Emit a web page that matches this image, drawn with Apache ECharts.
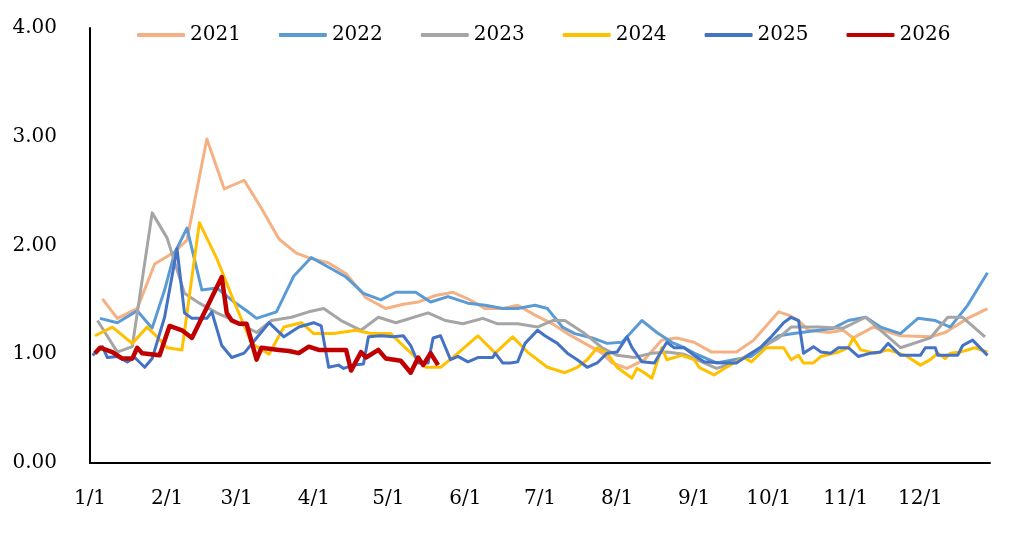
<!DOCTYPE html>
<html>
<head>
<meta charset="utf-8">
<script src="https://cdn.jsdelivr.net/npm/echarts@6/dist/echarts.min.js"></script>
<style>
html,body{margin:0;padding:0;background:#fff;}
#chart{width:1026px;height:547px;}
</style>
</head>
<body>
<div id="chart"></div>
<script>
// x = day of year (0 = Jan 1)
const monthStarts = [0,31,59,90,120,151,181,212,243,273,304,334];
const monthLabels = ['1/1','2/1','3/1','4/1','5/1','6/1','7/1','8/1','9/1','10/1','11/1','12/1'];
const seriesNames = ['2021','2022','2023','2024','2025','2026'];

const s2021 = [[5,1.51],[11,1.33],[19,1.42],[26,1.83],[34,1.94],[39,2.05],[47,2.98],[54,2.52],[62,2.60],[69,2.34],[76,2.06],[83,1.93],[89,1.88],[96,1.84],[103,1.74],[111,1.52],[119,1.42],[126,1.46],[132,1.48],[139,1.54],[146,1.57],[152,1.51],[159,1.42],[166,1.42],[172,1.45],[179,1.36],[186,1.28],[192,1.19],[199,1.10],[206,1.01],[210,0.92],[216,0.87],[223,0.95],[230,1.13],[236,1.15],[243,1.11],[250,1.02],[260,1.02],[267,1.13],[277,1.39],[281,1.36],[285,1.31],[289,1.22],[297,1.20],[303,1.22],[307,1.15],[315,1.25],[326,1.17],[338,1.16],[344,1.20],[353,1.33],[361,1.42]];

const s2022 = [[4,1.33],[11,1.29],[19,1.40],[25,1.24],[30,1.59],[34,1.93],[39,2.16],[45,1.59],[51,1.61],[58,1.48],[63,1.40],[67,1.33],[75,1.39],[82,1.72],[89,1.89],[96,1.80],[103,1.71],[110,1.56],[117,1.50],[123,1.57],[131,1.57],[137,1.48],[144,1.53],[152,1.47],[159,1.45],[166,1.42],[172,1.42],[179,1.45],[184,1.42],[190,1.25],[195,1.19],[202,1.15],[208,1.10],[214,1.11],[222,1.31],[228,1.20],[234,1.11],[239,1.06],[243,1.01],[252,0.92],[259,0.95],[266,0.98],[277,1.17],[283,1.19],[293,1.22],[299,1.24],[305,1.31],[312,1.34],[318,1.25],[326,1.19],[333,1.33],[340,1.31],[346,1.25],[353,1.45],[361,1.75]];

const s2023 = [[3,1.31],[11,1.02],[17,1.07],[25,2.30],[31,2.07],[38,1.56],[44,1.47],[51,1.38],[58,1.31],[67,1.20],[73,1.31],[81,1.34],[88,1.39],[94,1.42],[101,1.31],[109,1.22],[116,1.34],[123,1.29],[136,1.38],[143,1.31],[150,1.28],[158,1.33],[164,1.28],[172,1.28],[180,1.25],[186,1.31],[191,1.31],[199,1.19],[206,1.06],[212,0.99],[219,0.97],[226,1.01],[232,1.02],[239,1.00],[252,0.87],[259,0.92],[266,1.01],[277,1.15],[282,1.25],[293,1.25],[303,1.24],[312,1.34],[326,1.06],[338,1.15],[345,1.34],[351,1.34],[360,1.16]];

const s2024 = [[2,1.17],[9,1.25],[17,1.10],[23,1.25],[27,1.16],[31,1.06],[37,1.04],[44,2.21],[51,1.88],[58,1.48],[65,1.10],[72,1.00],[78,1.25],[85,1.29],[90,1.19],[98,1.19],[107,1.22],[113,1.19],[121,1.19],[125,1.10],[131,0.97],[135,0.88],[141,0.88],[148,1.01],[156,1.17],[163,1.01],[170,1.16],[176,1.02],[184,0.88],[191,0.83],[196,0.88],[200,0.95],[204,1.06],[208,1.01],[212,0.88],[218,0.78],[220,0.87],[223,0.83],[226,0.78],[230,1.06],[232,0.95],[238,0.99],[243,0.95],[245,0.88],[251,0.81],[256,0.88],[263,0.97],[266,0.93],[272,1.06],[279,1.06],[282,0.95],[285,0.99],[287,0.92],[291,0.92],[294,0.98],[301,1.02],[305,1.06],[307,1.15],[310,1.04],[316,1.01],[321,1.04],[328,0.99],[334,0.90],[338,0.95],[341,1.01],[344,0.96],[346,1.01],[350,1.02],[356,1.06],[361,1.02]];

const s2025 = [[1,0.99],[5,1.07],[7,0.97],[11,0.98],[15,0.93],[18,0.97],[22,0.88],[25,0.96],[30,1.34],[35,1.97],[38,1.38],[41,1.33],[47,1.33],[49,1.39],[53,1.08],[57,0.97],[62,1.01],[67,1.15],[72,1.29],[78,1.16],[84,1.25],[90,1.29],[93,1.26],[96,0.88],[100,0.90],[102,0.87],[106,0.90],[110,0.91],[112,1.16],[117,1.17],[122,1.16],[126,1.17],[129,1.08],[132,0.92],[136,0.92],[138,1.15],[141,1.17],[145,0.95],[148,0.98],[152,0.93],[156,0.97],[162,0.97],[163,1.01],[166,0.92],[169,0.92],[172,0.93],[175,1.10],[180,1.22],[183,1.17],[188,1.10],[192,1.01],[196,0.95],[200,0.88],[204,0.92],[208,1.01],[212,1.02],[216,1.16],[218,1.06],[222,0.93],[227,0.92],[232,1.11],[235,1.06],[239,1.06],[243,0.99],[247,0.93],[254,0.92],[260,0.92],[266,1.01],[270,1.07],[274,1.16],[279,1.29],[282,1.34],[285,1.31],[287,1.01],[291,1.07],[294,1.02],[298,1.01],[301,1.06],[305,1.06],[309,0.98],[314,1.01],[318,1.02],[321,1.10],[326,0.99],[334,0.99],[336,1.06],[340,1.06],[341,0.99],[349,0.99],[351,1.08],[355,1.13],[361,0.99]];

const s2026 = [[2,1.01],[4,1.06],[9,1.02],[13,0.96],[17,0.96],[19,1.06],[21,1.01],[28,0.99],[32,1.26],[37,1.22],[41,1.15],[47,1.43],[53,1.71],[55,1.38],[57,1.31],[60,1.28],[63,1.28],[67,0.95],[69,1.06],[76,1.04],[80,1.03],[84,1.01],[88,1.07],[92,1.04],[103,1.04],[105,0.85],[109,1.02],[111,0.97],[116,1.04],[119,0.96],[125,0.94],[129,0.83],[132,0.97],[134,0.90],[137,1.01],[140,0.90]];

const seriesData = [s2021,s2022,s2023,s2024,s2025,s2026];
const colors = ['#F4B183','#5B9BD5','#A5A5A5','#FFC000','#4472C4','#C00000'];
const widths = [3,3,3,3,3,4.5];

const font = 'DejaVu Serif';
const chart = echarts.init(document.getElementById('chart'), null, {renderer:'canvas'});
chart.setOption({
  animation:false,
  backgroundColor:'#fff',
  color: colors,
  legend:{
    top:20, left:132,
    itemWidth:48, itemHeight:4, itemGap:38,
    icon:'roundRect',
    data: seriesNames.map((n,i)=>({name:n, itemStyle:{color:colors[i]}})),
    textStyle:{fontFamily:font, fontSize:20, color:'#000'}
  },
  grid:{left:90, right:36, top:28, bottom:84, containLabel:false},
  xAxis:{
    type:'value', min:0, max:362,
    axisLine:{show:true, lineStyle:{color:'#000', width:2}},
    axisTick:{show:false},
    splitLine:{show:false},
    axisLabel:{
      customValues: monthStarts,
      margin:26,
      fontFamily:font, fontSize:20, color:'#000',
      formatter: v => { const i = monthStarts.indexOf(Math.round(v)); return i>=0 ? monthLabels[i] : ''; }
    }
  },
  yAxis:{
    type:'value', min:0, max:4, interval:1,
    axisLine:{show:true, lineStyle:{color:'#000', width:2}},
    axisTick:{show:false},
    splitLine:{show:false},
    axisLabel:{margin:33, fontFamily:font, fontSize:20, color:'#000', formatter: v => v.toFixed(2)}
  },
  series: seriesNames.map((n,i)=>({
    name:n, type:'line', data:seriesData[i], symbol:'none', smooth:false,
    lineStyle:{width:widths[i], color:colors[i], join:'round'},
    itemStyle:{color:colors[i]},
    z: 2+i
  }))
});
</script>
</body>
</html>
